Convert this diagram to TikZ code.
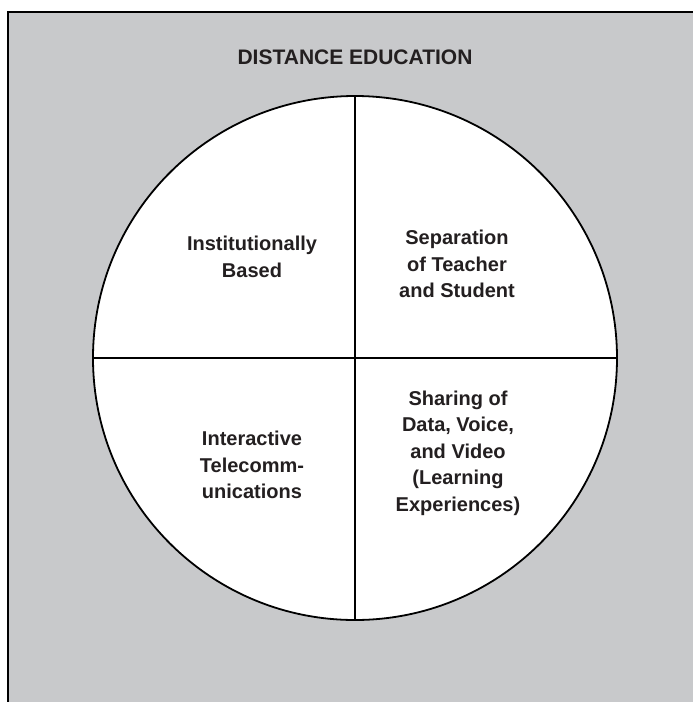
\documentclass[tikz,border=0pt]{standalone}
\usepackage{fontspec}
\setmainfont{Liberation Sans}
\usetikzlibrary{positioning}
\definecolor{panelgray}{RGB}{200,201,203}
\definecolor{inkblack}{RGB}{35,31,32}
\tikzset{
	quad/.style={font=\fontsize{20}{26.5}\selectfont\bfseries, text=inkblack, align=center, inner sep=0pt},
	heading/.style={font=\fontsize{21}{25}\selectfont\bfseries, text=inkblack, inner sep=0pt},
}
\begin{document}
\begin{tikzpicture}[x=1pt, y=-1pt]
		%%%%% START %%%%%
		\useasboundingbox (0, 0) rectangle (693, 702);
		\clip (0, 0) rectangle (693, 702);
		\draw[line width=2pt, fill=panelgray] (8, 12) rectangle (710, 720);
		
		\node[heading] (title) at (355, 57) {DISTANCE EDUCATION};
		
		\node[circle, draw, line width=1.8pt, fill=white, minimum size=524pt, inner sep=0pt] (disc) at (355, 358) {};
		\draw[line width=1.8pt] (disc.north) -- (disc.south);
		\draw[line width=1.8pt] (disc.west) -- (disc.east);
		
		\node[quad] (base) at (252, 257) {Institutionally\\Based};
		\node[quad] (separation) at (457, 264) {Separation\\of Teacher\\and Student};
		\node[quad] (telecom) at (252, 465) {Interactive\\Telecomm-\\unications};
		\node[quad] (sharing) at (458, 453) {Sharing of\\Data, Voice,\\and Video\\(Learning\\Experiences)};
		%%%%% END %%%%%
\end{tikzpicture}
\end{document}
